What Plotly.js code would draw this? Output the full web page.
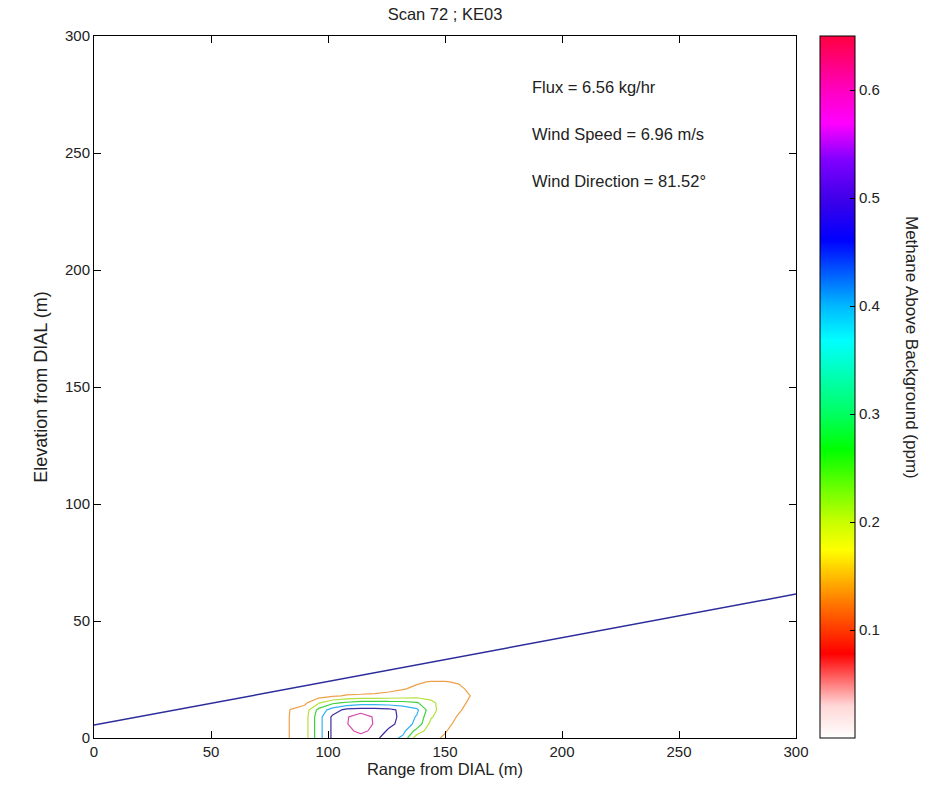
<!DOCTYPE html>
<html>
<head>
<meta charset="utf-8">
<script src="https://cdn.plot.ly/plotly-3.0.1.min.js"></script>
<style>html,body{margin:0;padding:0;background:#fff;}#chart{width:938px;height:788px;}</style>
</head>
<body>
<div id="chart"></div>
<script>
// Grid of range (m) and elevation (m) for the methane field
var rangeX = [78, 84, 90, 96, 102, 108, 114, 120, 126, 132, 138, 144, 150, 156, 162, 168];
var elevY = [0, 3, 6, 9, 12, 15, 18, 21, 24, 27];
// Methane above background (ppm), one row per elevation
var row0  = [0, 0.11, 0.15, 0.36, 0.52, 0.55, 0.57, 0.53, 0.44, 0.38, 0.14, 0.12, 0.09, 0.05, 0.02, 0];
var row3  = [0, 0.11, 0.15, 0.36, 0.52, 0.58, 0.62, 0.58, 0.48, 0.43, 0.26, 0.14, 0.105, 0.07, 0.03, 0];
var row6  = [0, 0.11, 0.15, 0.36, 0.52, 0.595, 0.66, 0.59, 0.53, 0.46, 0.37, 0.17, 0.12, 0.08, 0.03, 0];
var row9  = [0, 0.11, 0.15, 0.36, 0.52, 0.59, 0.66, 0.585, 0.54, 0.47, 0.39, 0.21, 0.14, 0.09, 0.03, 0];
var row12 = [0, 0.105, 0.14, 0.33, 0.45, 0.53, 0.545, 0.545, 0.53, 0.47, 0.42, 0.24, 0.14, 0.11, 0.06, 0];
var row15 = [0, 0.04, 0.08, 0.19, 0.28, 0.32, 0.35, 0.35, 0.345, 0.34, 0.31, 0.22, 0.16, 0.12, 0.08, 0];
var row18 = [0, 0.02, 0.04, 0.06, 0.085, 0.11, 0.115, 0.12, 0.125, 0.14, 0.16, 0.17, 0.16, 0.14, 0.09, 0];
var row21 = [0, 0, 0.01, 0.02, 0.03, 0.04, 0.05, 0.06, 0.08, 0.095, 0.115, 0.125, 0.125, 0.12, 0.07, 0];
var row24 = [0, 0, 0, 0, 0.01, 0.02, 0.03, 0.03, 0.04, 0.06, 0.09, 0.105, 0.105, 0.09, 0.04, 0];
var row27 = [0, 0, 0, 0, 0, 0, 0, 0, 0, 0, 0.02, 0.03, 0.03, 0.02, 0, 0];
// Contour levels (ppm)
var levels = [0.1, 0.2, 0.3, 0.4, 0.5, 0.6];
// Beam / ground line
var beamX = [0, 300];
var beamY = [5.5, 61.5];
// Texts
var chartTitle = "Scan 72 ; KE03";
var infoLines = ["Flux = 6.56 kg/hr", "Wind Speed = 6.96 m/s", "Wind Direction = 81.52°"];
var infoY = [278, 258, 238];
var infoX = 186.5;
var axisTicks = [0, 50, 100, 150, 200, 250, 300];
var cbTicks = [0.1, 0.2, 0.3, 0.4, 0.5, 0.6];

var cmin = 0, cmax = 0.65;
function s(v){ return v / cmax; }
var cscale = [
  [0, '#ffffff'],
  [s(0.03), '#ffd6d6'],
  [s(0.078), '#ff0000'],
  [s(0.128), '#ff8000'],
  [s(0.174), '#ffff00'],
  [s(0.2), '#c8ff00'],
  [s(0.267), '#00ff00'],
  [s(0.30), '#00ff60'],
  [s(0.368), '#00ffff'],
  [s(0.40), '#00b8ff'],
  [s(0.461), '#0000ff'],
  [s(0.50), '#4000e8'],
  [s(0.535), '#8000ff'],
  [s(0.569), '#ff00ff'],
  [s(0.60), '#ff00c0'],
  [1, '#ff0040']
];
// line colours of the contour levels as seen in the picture
var levelColors = ['#eea048', '#b4e03c', '#3cd23c', '#34b4f0', '#3a2ca4', '#d84caa'];
var lineScale = levelColors.map(function(c, i){ return [i / (levelColors.length - 1), c]; });

var z = [row0, row3, row6, row9, row12, row15, row18, row21, row24, row27];
var font = "Liberation Sans, Arial, sans-serif";
var txt = '#222';

var traces = [
  {
    type: 'heatmap', x: rangeX, y: elevY, z: z,
    zmin: cmin, zmax: cmax, zauto: false, colorscale: cscale,
    opacity: 0, hoverinfo: 'skip', showscale: true,
    colorbar: {
      x: (820 - 94) / 702, xanchor: 'left', xref: 'paper',
      y: 0, yanchor: 'bottom', len: 1, lenmode: 'fraction',
      thickness: 35, thicknessmode: 'pixels',
      outlinecolor: '#000', outlinewidth: 1,
      tickvals: cbTicks, ticktext: cbTicks.map(function(v){return v.toFixed(1);}),
      ticks: 'inside', ticklen: 5, tickcolor: '#000',
      tickfont: {family: font, size: 15, color: txt},
      xpad: 0, ypad: 0
    }
  },
  {
    type: 'contour', x: rangeX, y: elevY, z: z,
    colorscale: lineScale,
    autocontour: false,
    contours: {start: levels[0], end: levels[levels.length - 1], size: levels[1] - levels[0], coloring: 'lines'},
    line: {width: 1.2, smoothing: 0},
    showscale: false,
    hoverinfo: 'skip'
  },
  {
    type: 'scatter', mode: 'lines', x: beamX, y: beamY,
    line: {color: '#2b2b9c', width: 1.5}, showlegend: false, hoverinfo: 'skip'
  }
];

var annotations = infoLines.map(function(t, i){
  return {x: infoX, y: infoY[i], xref: 'x', yref: 'y', text: t, showarrow: false,
          xanchor: 'left', yanchor: 'middle', font: {family: font, size: 16.5, color: txt}};
});
annotations.push({
  x: (912 - 94) / 702, y: (738 - 347) / 702, xref: 'paper', yref: 'paper',
  text: 'Methane Above Background (ppm)', textangle: 90, showarrow: false,
  xanchor: 'center', yanchor: 'middle', font: {family: font, size: 17, color: txt}
});

var axisCommon = {
  range: [0, 300], tickvals: axisTicks, ticktext: axisTicks.map(String),
  ticks: 'inside', ticklen: 7, tickcolor: '#000', showline: true, linecolor: '#000', linewidth: 1,
  mirror: 'allticks', showgrid: false, zeroline: false,
  tickfont: {family: font, size: 15, color: txt}
};

var layout = {
  width: 938, height: 788,
  margin: {l: 94, r: 142, t: 36, b: 50},
  paper_bgcolor: '#fff', plot_bgcolor: '#fff',
  showlegend: false,
  title: {text: chartTitle, x: 0.5, xref: 'paper', xanchor: 'center', y: 1 - 14 / 788, yanchor: 'middle',
          font: {family: font, size: 16.5, color: txt}},
  xaxis: Object.assign({}, axisCommon, {title: {text: 'Range from DIAL (m)', standoff: 2, font: {family: font, size: 16.5, color: txt}}}),
  yaxis: Object.assign({}, axisCommon, {title: {text: 'Elevation from DIAL (m)', standoff: 12, font: {family: font, size: 18, color: txt}}}),
  annotations: annotations
};

Plotly.newPlot('chart', traces, layout, {displayModeBar: false, staticPlot: true});
</script>
</body>
</html>
